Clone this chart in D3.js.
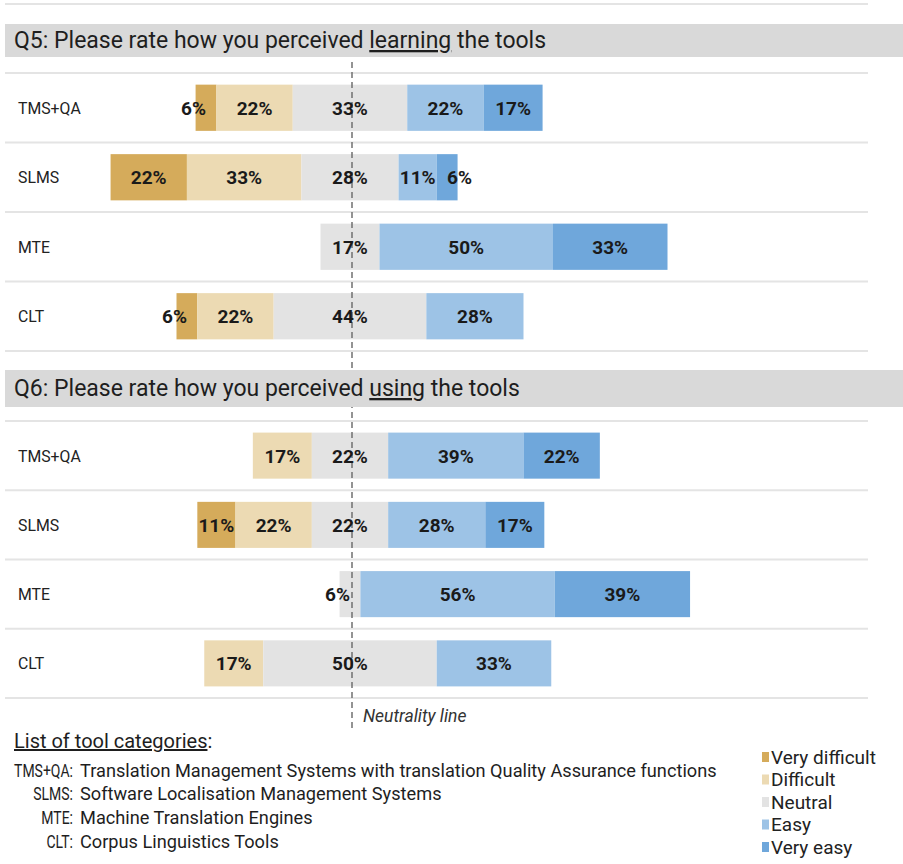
<!DOCTYPE html>
<html>
<head>
<meta charset="utf-8">
<script src="https://cdn.jsdelivr.net/npm/d3@7"></script>
<style>
  html, body { margin: 0; padding: 0; background: #fff; }
  svg { display: block; font-family: Roboto, "Liberation Sans", Arial, sans-serif; }
</style>
</head>
<body>
<svg id="chart" width="903" height="864"></svg>
<script>
// Rating scale and colours
const ratings = ["Very difficult", "Difficult", "Neutral", "Easy", "Very easy"];
const ratingColors = ["#d5ab5b", "#ecdab3", "#e3e3e3", "#9dc3e6", "#6fa7db"];
const tools = ["TMS+QA", "SLMS", "MTE", "CLT"];

// Q5: learning the tools (% of respondents)
const q5VeryDifficult = [6, 22, 0, 6];
const q5Difficult     = [22, 33, 0, 22];
const q5Neutral       = [33, 28, 17, 44];
const q5Easy          = [22, 11, 50, 28];
const q5VeryEasy      = [17, 6, 33, 0];

// Q6: using the tools (% of respondents)
const q6VeryDifficult = [0, 11, 0, 0];
const q6Difficult     = [17, 22, 0, 17];
const q6Neutral       = [22, 22, 6, 50];
const q6Easy          = [39, 28, 56, 33];
const q6VeryEasy      = [22, 17, 39, 0];

// Tool category descriptions
const toolNames = [
  "Translation Management Systems with translation Quality Assurance functions",
  "Software Localisation Management Systems",
  "Machine Translation Engines",
  "Corpus Linguistics Tools"
];

const panels = [
  { pre: "Q5: Please rate how you perceived ", em: "learning", post: " the tools",
    series: [q5VeryDifficult, q5Difficult, q5Neutral, q5Easy, q5VeryEasy],
    band: [24, 57], rows: [73, 351] },
  { pre: "Q6: Please rate how you perceived ", em: "using", post: " the tools",
    series: [q6VeryDifficult, q6Difficult, q6Neutral, q6Easy, q6VeryEasy],
    band: [370, 407], rows: [421, 698] }
];

const svg = d3.select("#chart");
const W = 903;

// Diverging axis: 0 = centre of the neutral segment
const x = d3.scaleLinear().domain([-50, 50]).range([350 - 173.5, 350 + 173.5]);
const neutralX = x(0) + 2;

const gridLayer = svg.append("g");
const barLayer = svg.append("g");
const lineLayer = svg.append("g");
const bandLayer = svg.append("g");
const textLayer = svg.append("g");

// top rule
gridLayer.append("line")
  .attr("x1", 5).attr("x2", 868).attr("y1", 4).attr("y2", 4)
  .attr("stroke", "#e4e4e4").attr("stroke-width", 2);

panels.forEach(p => {
  const y = d3.scaleBand().domain(tools).range(p.rows);
  const barH = y.bandwidth() * 0.665;

  // row separators
  d3.range(tools.length + 1).forEach(i => {
    const yy = p.rows[0] + i * y.step();
    gridLayer.append("line")
      .attr("x1", 5).attr("x2", 868).attr("y1", yy).attr("y2", yy)
      .attr("stroke", "#e4e4e4").attr("stroke-width", 2);
  });

  // header band
  bandLayer.append("rect")
    .attr("x", 5).attr("y", p.band[0]).attr("width", W - 5).attr("height", p.band[1] - p.band[0])
    .attr("fill", "#d9d9d9");
  const ht = textLayer.append("text")
    .attr("x", 14).attr("y", (p.band[0] + p.band[1]) / 2 + 7.5)
    .attr("font-size", 23).attr("fill", "#1e1e1e");
  ht.append("tspan").text(p.pre);
  ht.append("tspan").attr("text-decoration", "underline").text(p.em);
  ht.append("tspan").text(p.post);

  tools.forEach((tool, ti) => {
    const cy = y(tool) + y.bandwidth() / 2;
    textLayer.append("text")
      .attr("x", 18).attr("y", cy + 6)
      .attr("font-size", 15.8).attr("fill", "#222")
      .text(tool);

    // stack segments, neutral centred on 0
    const vals = p.series.map(s => s[ti]);
    let start = -vals[2] / 2 - vals[1] - vals[0];
    const segs = vals.map((v, k) => {
      const s = { k, v, x0: start, x1: start + v };
      start += v;
      return s;
    }).filter(s => s.v > 0);

    barLayer.selectAll(null).data(segs).enter().append("rect")
      .attr("x", d => x(d.x0))
      .attr("width", d => x(d.x1) - x(d.x0))
      .attr("y", cy - barH / 2)
      .attr("height", barH)
      .attr("fill", d => ratingColors[d.k]);

    textLayer.selectAll(null).data(segs).enter().append("text")
      .attr("x", d => {
        const w = x(d.x1) - x(d.x0);
        if (w >= 25) return (x(d.x0) + x(d.x1)) / 2;
        // narrow segment: label sits on its outer edge
        return d.x1 > 0 && d.x0 >= 0 ? x(d.x1) + 2 : x(d.x0) - 2;
      })
      .attr("y", cy + 7)
      .attr("text-anchor", "middle")
      .attr("font-size", 19).attr("font-weight", "bold").attr("fill", "#1a1a1a")
      .text(d => d.v + "%");
  });
});

// neutrality line
lineLayer.append("line")
  .attr("x1", neutralX).attr("x2", neutralX).attr("y1", 62).attr("y2", 731)
  .attr("stroke", "#707070").attr("stroke-width", 1.5).attr("stroke-dasharray", "6,4");
textLayer.append("text")
  .attr("x", 363).attr("y", 722)
  .attr("font-size", 17.5).attr("font-style", "italic").attr("fill", "#333")
  .text("Neutrality line");

// tool category list
const lt = textLayer.append("text").attr("x", 14).attr("y", 748)
  .attr("font-size", 20).attr("fill", "#1e1e1e");
lt.append("tspan").attr("text-decoration", "underline").text("List of tool categories");
lt.append("tspan").text(":");

tools.forEach((t, i) => {
  const yy = 776.5 + i * 23.7;
  // abbreviations are set in a condensed cut, right-aligned on the colon
  textLayer.append("text")
    .attr("transform", `translate(73,${yy}) scale(0.8,1)`)
    .attr("text-anchor", "end")
    .attr("font-size", 17.5).attr("fill", "#1e1e1e").text(t + ":");
  textLayer.append("text").attr("x", 80).attr("y", yy)
    .attr("font-size", 18.2).attr("fill", "#1e1e1e").text(toolNames[i]);
});

// legend
ratings.forEach((r, i) => {
  const yy = 757 + i * 22.5;
  textLayer.append("rect").attr("x", 762).attr("y", yy - 5).attr("width", 7).attr("height", 10)
    .attr("fill", ratingColors[i]);
  textLayer.append("text").attr("x", 771).attr("y", yy + 6.5)
    .attr("font-size", 19).attr("fill", "#222").text(r);
});
</script>
</body>
</html>
